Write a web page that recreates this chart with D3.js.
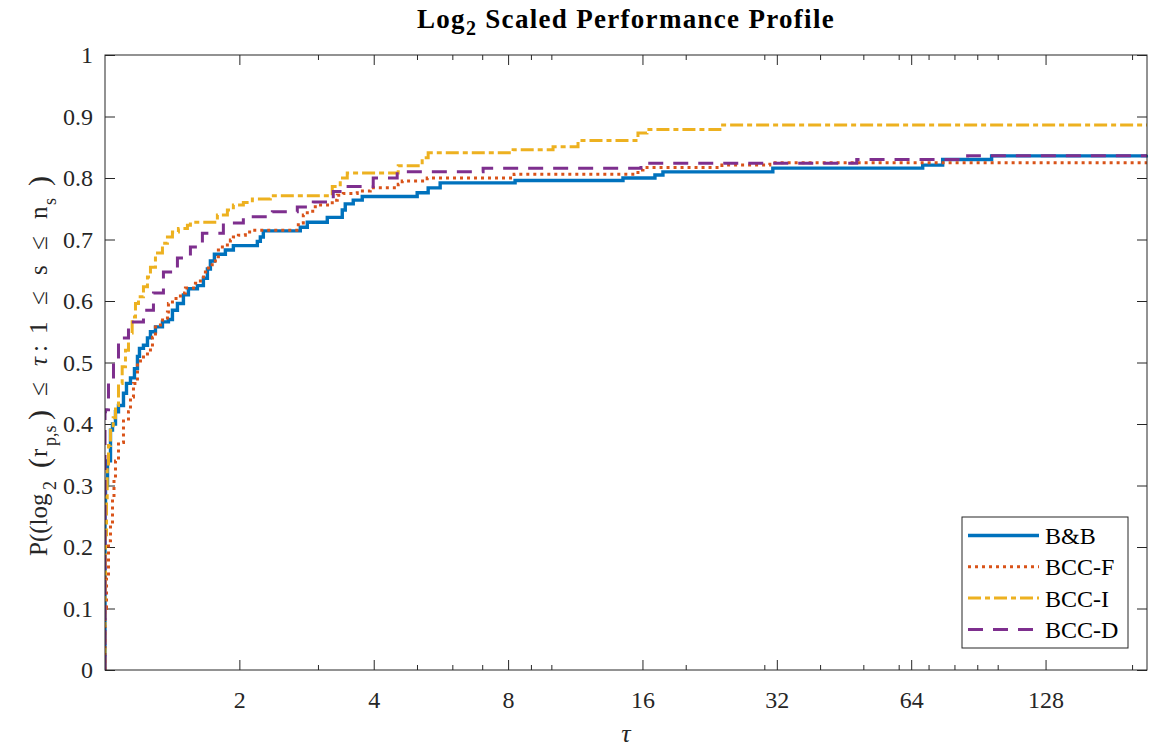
<!DOCTYPE html>
<html><head><meta charset="utf-8">
<script src="https://cdn.jsdelivr.net/npm/d3@7"></script>
<style>body{margin:0;background:#fff}svg{display:block}</style>
</head><body><svg id="chart" width="1150" height="749"></svg>
<script>
// ---- data (x values are log2(tau), y values are fraction of problems) ----
const seriesNames = ["B&B", "BCC-F", "BCC-I", "BCC-D"];
const seriesColors = ["#0072BD", "#D95319", "#EDB120", "#7E2F8E"];

const bbLog2Tau = [0,0,0.0037,0.0186,0.0409,0.0558,0.0781,0.1004,0.1375,0.1599,0.1896,0.2193,0.2416,0.2565,0.2862,0.316,0.3383,0.3755,0.4275,0.4721,0.5019,0.539,0.5836,0.6208,0.6877,0.7323,0.7621,0.7844,0.8141,0.8959,0.9554,1.1338,1.1561,1.1784,1.4535,1.5056,1.6543,1.7658,1.7881,1.8476,1.9145,2.3234,2.4052,2.4944,3.052,3.855,4.0929,4.1524,4.9703,6.0855,6.2342,6.5985,7.75];
const bbValue   = [0,0.27,0.30,0.34,0.39,0.40,0.42,0.43,0.45,0.466,0.475,0.49,0.51,0.523,0.528,0.54,0.55,0.558,0.566,0.57,0.585,0.596,0.61,0.62,0.625,0.637,0.652,0.665,0.676,0.683,0.69,0.697,0.704,0.714,0.72,0.728,0.736,0.748,0.758,0.764,0.77,0.776,0.784,0.792,0.796,0.80,0.805,0.81,0.816,0.821,0.83,0.836,0.838];

const bccFLog2Tau = [0,0,0.0112,0.026,0.0409,0.0558,0.0669,0.0781,0.1004,0.1375,0.1747,0.1896,0.2119,0.2416,0.2639,0.316,0.3383,0.3532,0.3755,0.4126,0.4647,0.4721,0.5019,0.5613,0.5985,0.6729,0.71,0.7472,0.7695,0.8216,0.8439,0.8736,0.9108,0.9331,0.9554,0.9926,1.0446,1.0967,1.4387,1.4758,1.5056,1.5651,1.6914,1.7286,1.7732,1.8773,1.974,2.1822,2.2119,2.3978,3.0446,3.9665,4.0037,4.5911,4.948,7.755];
const bccFValue   = [0,0.10,0.15,0.21,0.235,0.28,0.31,0.34,0.37,0.405,0.42,0.444,0.466,0.499,0.509,0.517,0.525,0.541,0.561,0.569,0.582,0.596,0.604,0.613,0.621,0.629,0.639,0.647,0.659,0.672,0.683,0.688,0.694,0.699,0.704,0.707,0.712,0.715,0.727,0.74,0.746,0.756,0.764,0.772,0.775,0.779,0.784,0.79,0.795,0.80,0.806,0.813,0.817,0.821,0.825,0.825];

const bccILog2Tau = [0,0,0.0037,0.0112,0.0164,0.026,0.0409,0.061,0.0781,0.1004,0.1279,0.1524,0.1747,0.2022,0.2268,0.2491,0.2862,0.316,0.3383,0.3755,0.4275,0.4647,0.5019,0.5465,0.6134,0.6357,0.8364,0.9108,0.9554,1.0297,1.0967,1.2305,1.6914,1.7509,1.803,2.1822,2.3606,2.4052,3.0372,3.3346,3.5204,3.9665,4.0335,4.5762,7.755];
const bccIValue   = [0,0.13,0.22,0.28,0.33,0.365,0.39,0.41,0.43,0.466,0.493,0.52,0.548,0.574,0.596,0.607,0.623,0.639,0.655,0.678,0.694,0.704,0.712,0.718,0.723,0.728,0.74,0.748,0.756,0.76,0.766,0.771,0.786,0.80,0.808,0.82,0.833,0.841,0.846,0.851,0.861,0.873,0.879,0.886,0.886];

const bccDLog2Tau = [0,0,0.0037,0.026,0.0632,0.1004,0.1747,0.2862,0.3606,0.4349,0.539,0.6357,0.7249,0.881,1.0297,1.2454,1.4312,1.5502,1.6989,1.7732,1.9963,2.1747,2.8141,3.9888,5.5948,6.42,7.755];
const bccDValue   = [0,0.42,0.423,0.466,0.499,0.54,0.566,0.585,0.613,0.647,0.67,0.688,0.71,0.727,0.737,0.745,0.753,0.761,0.778,0.786,0.80,0.81,0.816,0.824,0.830,0.836,0.836];

const xTickLabels = [2, 4, 8, 16, 32, 64, 128];
const xMinorTickTau = [3, 5, 6, 7, 9, 10, 20, 30, 40, 50, 60, 70, 80, 90, 100, 200];
const yTickValues = [0, 0.1, 0.2, 0.3, 0.4, 0.5, 0.6, 0.7, 0.8, 0.9, 1];
const xMaxLog2 = 7.755;

// ---- layout ----
const L = 105, R = 1147, T = 55, B = 670;
const FONT = "'Liberation Serif','Times New Roman',serif";
const AX = "#262626";

const svg = d3.select("#chart");
const x = d3.scaleLinear().domain([0, xMaxLog2]).range([L, R]);
const y = d3.scaleLinear().domain([0, 1]).range([B, T]);

svg.append("defs").append("clipPath").attr("id", "clip")
  .append("rect").attr("x", L).attr("y", T - 2).attr("width", R - L + 2).attr("height", B - T + 2);

function styleAxis(g) {
  g.select(".domain").remove();
  g.selectAll(".tick line").attr("stroke", AX).attr("stroke-width", 1);
  g.selectAll(".tick text").attr("fill", AX).style("font-family", FONT).style("font-size", "24px");
}
const majorX = xTickLabels.map(v => Math.log2(v));
const minorX = xMinorTickTau.map(v => Math.log2(v));

svg.append("g").attr("transform", `translate(0,${B})`)
  .call(d3.axisBottom(x).tickValues(majorX).tickFormat(d => String(Math.round(2 ** d))).tickSize(-10).tickPadding(21))
  .call(styleAxis);
svg.append("g").attr("transform", `translate(0,${B})`)
  .call(d3.axisBottom(x).tickValues(minorX).tickFormat("").tickSize(-5)).call(styleAxis);
svg.append("g").attr("transform", `translate(0,${T})`)
  .call(d3.axisTop(x).tickValues(majorX).tickFormat("").tickSize(-10)).call(styleAxis);
svg.append("g").attr("transform", `translate(0,${T})`)
  .call(d3.axisTop(x).tickValues(minorX).tickFormat("").tickSize(-5)).call(styleAxis);
svg.append("g").attr("transform", `translate(${L},0)`)
  .call(d3.axisLeft(y).tickValues(yTickValues).tickFormat(d => d3.format("~g")(d)).tickSize(-10).tickPadding(12))
  .call(styleAxis);
svg.append("g").attr("transform", `translate(${R},0)`)
  .call(d3.axisRight(y).tickValues(yTickValues).tickFormat("").tickSize(-10)).call(styleAxis);

// series lines
const seriesX = [bbLog2Tau, bccFLog2Tau, bccILog2Tau, bccDLog2Tau];
const seriesY = [bbValue, bccFValue, bccIValue, bccDValue];
const dashes = [null, "3,4", "13,4,5,4", "15,10"];
const widths = [3.4, 3, 3, 3];
const line = d3.line().x(d => x(d[0])).y(d => y(d[1])).curve(d3.curveStepAfter);
const gLines = svg.append("g").attr("clip-path", "url(#clip)");
seriesNames.forEach((name, i) => {
  const pts = seriesX[i].map((v, j) => [v, seriesY[i][j]]);
  gLines.append("path").datum(pts).attr("d", line)
    .attr("fill", "none").attr("stroke", seriesColors[i]).attr("stroke-width", widths[i])
    .attr("stroke-dasharray", dashes[i]);
});

// frame
svg.append("rect").attr("x", L).attr("y", T).attr("width", R - L).attr("height", B - T)
  .attr("fill", "none").attr("stroke", AX).attr("stroke-width", 1);

// title
const title = svg.append("text").attr("x", (L + R) / 2).attr("y", 28).attr("text-anchor", "middle")
  .style("font-family", FONT).style("font-size", "27px").style("font-weight", "bold")
  .style("letter-spacing", "1.3px").attr("fill", "#000");
title.append("tspan").text("Log");
title.append("tspan").attr("dy", 7).style("font-size", "20px").text("2");
title.append("tspan").attr("dy", -7).text(" Scaled Performance Profile");

// x label
svg.append("text").attr("x", (L + R) / 2).attr("y", 742).attr("text-anchor", "middle")
  .style("font-family", FONT).style("font-size", "26px").style("font-style", "italic").attr("fill", AX).text("τ");

// y label (rotated; pieces placed along the label like the reference's math spacing)
const yl = svg.append("text").attr("transform", "translate(47,556) rotate(-90)")
  .style("font-family", FONT).style("font-size", "25px").attr("fill", AX);
const pieces = [
  {t: "P((log", at: 0}, {t: "2", at: 66, sub: true}, {t: "(", at: 88, big: true}, {t: "r", at: 99},
  {t: "p,s", at: 110, sub: true}, {t: ")", at: 136, big: true}, {t: "≤", at: 160}, {t: "τ", at: 190, it: true},
  {t: ":", at: 204}, {t: "1", at: 222}, {t: "≤", at: 251}, {t: "s", at: 281}, {t: "≤", at: 306},
  {t: "n", at: 337}, {t: "s", at: 351, sub: true}, {t: ")", at: 370, big: true}
];
pieces.forEach(p => {
  const ts = yl.append("tspan").attr("x", p.at).attr("y", p.sub ? 9 : (p.big ? 2 : 0)).text(p.t);
  if (p.sub) ts.style("font-size", "18px");
  if (p.big) ts.style("font-size", "30px");
  if (p.it) ts.style("font-style", "italic");
});

// legend
const lg = svg.append("g");
lg.append("rect").attr("x", 962).attr("y", 517).attr("width", 166).attr("height", 131)
  .attr("fill", "#fff").attr("stroke", AX).attr("stroke-width", 1);
seriesNames.forEach((name, i) => {
  const yy = 535.5 + i * 31.3;
  lg.append("line").attr("x1", 968).attr("x2", 1039).attr("y1", yy).attr("y2", yy)
    .attr("stroke", seriesColors[i]).attr("stroke-width", widths[i]).attr("stroke-dasharray", dashes[i]);
  lg.append("text").attr("x", 1045).attr("y", yy).attr("dy", "0.35em")
    .style("font-family", FONT).style("font-size", "24px").attr("fill", "#000").text(name);
});
</script></body></html>
